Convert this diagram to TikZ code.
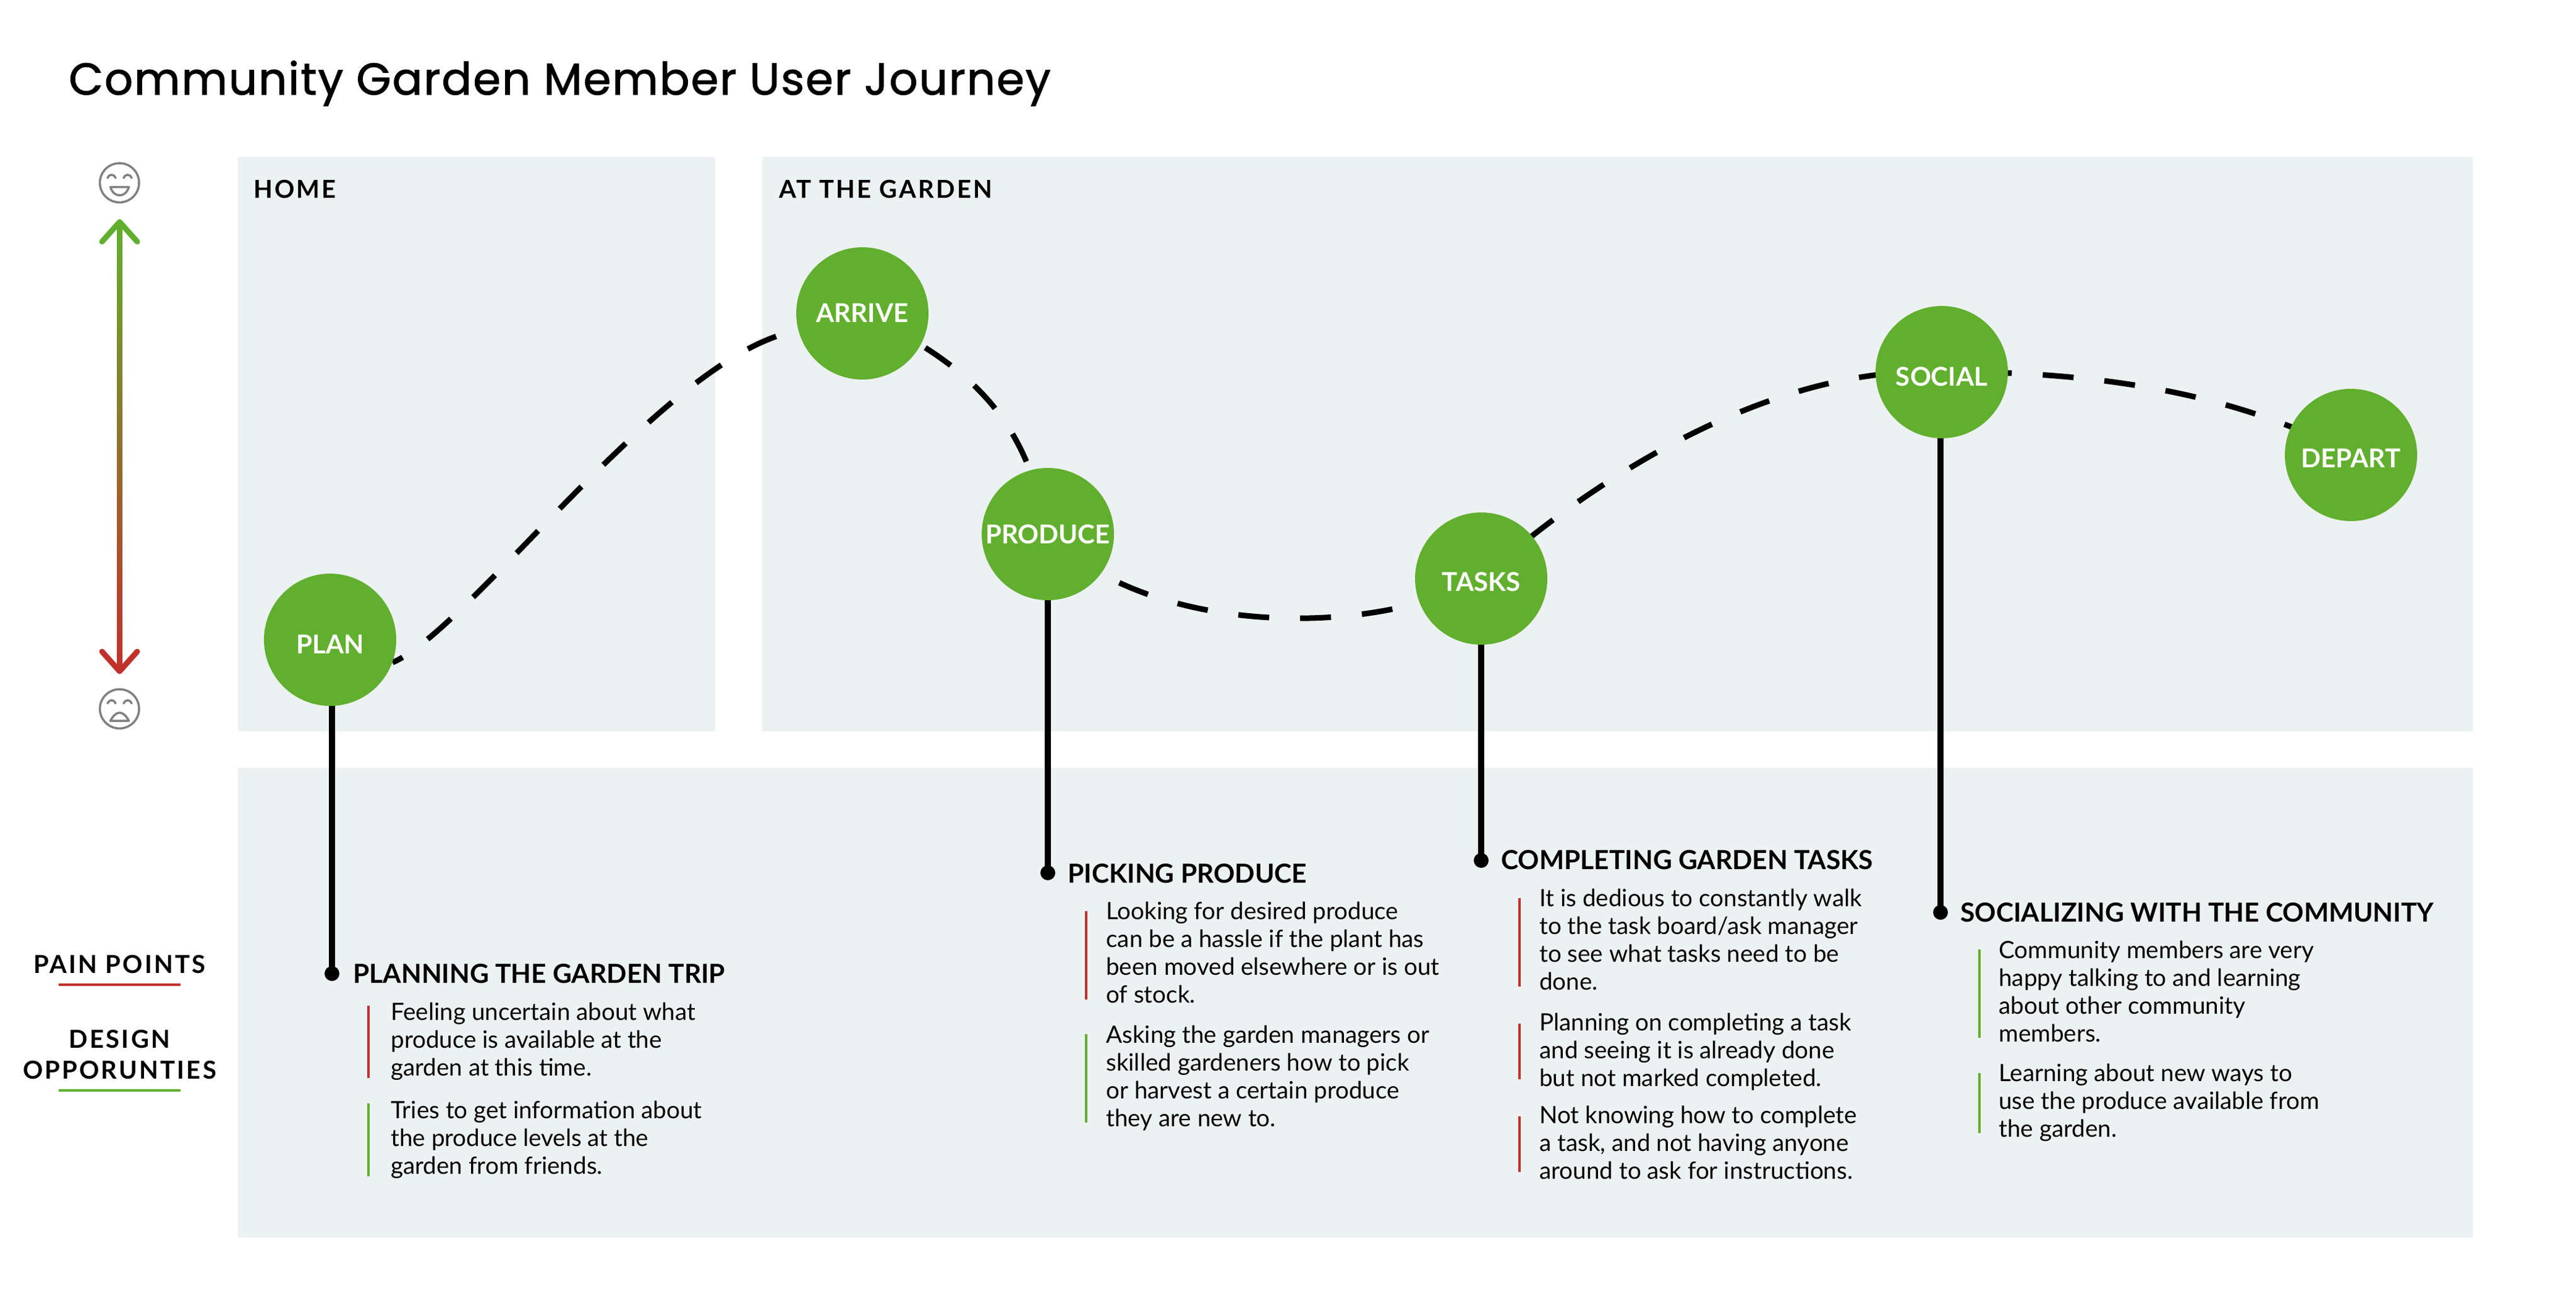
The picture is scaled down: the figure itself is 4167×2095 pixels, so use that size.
\documentclass[tikz,border=0pt]{standalone}
\usepackage{fontspec}
\setmainfont{Lato}
\newfontfamily\titlefont[LetterSpace=3,FakeBold=1.6]{Poppins}
\newfontfamily\capsfont[LetterSpace=8]{Lato}
\usetikzlibrary{backgrounds,calc}
\definecolor{panelbg}{HTML}{ECF1F1}
\definecolor{leaf}{HTML}{61AF2E}
\definecolor{painred}{HTML}{C1312C}
\definecolor{facegray}{HTML}{808080}
\newcommand{\fpx}[1]{\fontsize{\fpeval{#1*0.56906}pt}{\fpeval{45*0.56906}pt}\selectfont}
\tikzset{
 x=0.02cm,y=-0.02cm,
 panel/.style={fill=panelbg,draw=none},
 zone/.style={anchor=base west,inner sep=0,font=\capsfont\fpx{40}\bfseries},
 stage/.style={circle,fill=leaf,draw=none,minimum size=4.28cm,inner sep=0},
 stagelabel/.style={anchor=base,inner sep=0,text=white,font=\fpx{42}\bfseries},
 dashline/.style={line width=0.18cm,dash pattern=on 28.5pt off 28.5pt},
 stem/.style={line width=0.2cm,black},
 tip/.style={circle,fill=black,draw=none,minimum size=0.48cm,inner sep=0},
 head/.style={anchor=base west,inner sep=0,font=\fpx{42.5}\bfseries},
 body/.style={anchor=base west,inner sep=0,align=left,font=\fpx{38.6}},
 bar/.style={line width=0.08cm},
 legend/.style={anchor=base,inner sep=0,font=\capsfont\fpx{40}\bfseries},
 face/.style={facegray,line width=0.07cm,line cap=round,line join=round},
 moodtip/.style={line width=0.18cm,line cap=round,line join=round},
}
\begin{document}
\begin{tikzpicture}
\useasboundingbox (0,0) rectangle (4167,2095);
% stages
\node[stage] (plan) at (534,1035) {};
\node[stage] (arrive) at (1395,507) {};
\node[stage] (produce) at (1695,864) {};
\node[stage] (tasks) at (2396,936) {};
\node[stage] (social) at (3141,602) {};
\node[stage] (depart) at (3803,736) {};
\node[stagelabel] (planl) at (534,1057) {PLAN};
\node[stagelabel] (arrivel) at (1395,521) {ARRIVE};
\node[stagelabel] (producel) at (1695,879) {PRODUCE};
\node[stagelabel] (tasksl) at (2396,956) {TASKS};
\node[stagelabel] (sociall) at (3141,624) {SOCIAL};
\node[stagelabel] (departl) at (3803,756) {DEPART};
% tips
\node[tip] (t1) at (537,1575) {};
\node[tip] (t2) at (1695,1412) {};
\node[tip] (t3) at (2396,1392) {};
\node[tip] (t4) at (3139,1476) {};
\begin{scope}[on background layer]
\fill[panel] (385,254) rectangle (1157,1183);
\fill[panel] (1233,254) rectangle (4000,1183);
\fill[panel] (385,1242) rectangle (4000,2002);
\draw[dashline,dash phase=18pt] (plan.-20) .. controls (760,1020) and (1080,570) .. (arrive.195);
\draw[dashline,dash phase=48pt] (arrive.center) .. controls (1590,600) and (1660,690) .. (produce.center);
\draw[dashline,dash phase=34pt] (produce.center) .. controls (1860,1030) and (2220,1032) .. (tasks.center);
\draw[dashline] (tasks.center) .. controls (2570,780) and (2860,590) .. (social.center);
\draw[dashline,dash phase=21pt] (social.center) .. controls (3350,600) and (3600,625) .. (depart.center);
\draw[stem] (t1.center |- plan.center) -- (t1.center);
\draw[stem] (produce.center) -- (t2.center);
\draw[stem] (tasks.center) -- (t3.center);
\draw[stem] (t4.center |- social.center) -- (t4.center);
\end{scope}
% titles
\node[anchor=base west,inner sep=0,font=\titlefont\fpx{72}] (title) at (111,153) {Community Garden Member User Journey};
\node[zone] (home) at (410,320) {HOME};
\node[zone] (garden) at (1260,320) {AT THE GARDEN};
% headings
\node[head] (h1) at (571,1590) {PLANNING THE GARDEN TRIP};
\node[head] (h2) at (1727,1428) {PICKING PRODUCE};
\node[head] (h3) at (2428,1406) {COMPLETING GARDEN TASKS};
\node[head] (h4) at (3171,1491) {SOCIALIZING WITH THE COMMUNITY};
% bodies
\node[body] (b11) at (632,1740) {Feeling uncertain about what\\produce is available at the\\garden at this time.};
\node[body] (b12) at (632,1899) {Tries to get information about\\the produce levels at the\\garden from friends.};
\node[body] (b21) at (1789,1622) {Looking for desired produce\\can be a hassle if the plant has\\been moved elsewhere or is out\\of stock.};
\node[body] (b22) at (1789,1822) {Asking the garden managers or\\skilled gardeners how to pick\\or harvest a certain produce\\they are new to.};
\node[body] (b31) at (2490,1601) {It is dedious to constantly walk\\to the task board/ask manager\\to see what tasks need to be\\done.};
\node[body] (b32) at (2490,1757) {Planning on completing a task\\and seeing it is already done\\but not marked completed.};
\node[body] (b33) at (2490,1907) {Not knowing how to complete\\a task, and not having anyone\\around to ask for instructions.};
\node[body] (b41) at (3233,1685) {Community members are very\\happy talking to and learning\\about other community\\members.};
\node[body] (b42) at (3233,1839) {Learning about new ways to\\use the produce available from\\the garden.};
% bars
\draw[bar,painred] (596,1627) -- (596,1744);
\draw[bar,leaf] (596,1785) -- (596,1903);
\draw[bar,painred] (1757,1474) -- (1757,1617);
\draw[bar,leaf] (1757,1673) -- (1757,1816);
\draw[bar,painred] (2458,1453) -- (2458,1596);
\draw[bar,painred] (2458,1656) -- (2458,1746);
\draw[bar,painred] (2458,1806) -- (2458,1896);
\draw[bar,leaf] (3202,1536) -- (3202,1679);
\draw[bar,leaf] (3202,1736) -- (3202,1833);
% legend
\node[legend] (pain) at (193.5,1574) {PAIN POINTS};
\node[legend] (design) at (193.5,1695) {DESIGN};
\node[legend] (opp) at (193.5,1745) {OPPORUNTIES};
\draw[painred,line width=0.08cm] (95,1593) -- (292,1593);
\draw[leaf,line width=0.08cm] (95,1764) -- (292,1764);
% mood arrow
\shade[top color=leaf,bottom color=painred] (189,359) rectangle (198,1086);
\draw[moodtip,leaf] (165,391) -- (193.5,359) -- (222,391);
\draw[moodtip,painred] (165,1054) -- (193.5,1086) -- (222,1054);
% happy face
\draw[face] (193.3,295.7) circle [radius=0.634cm];
\draw[face] (174,288) .. controls (177,281) and (184,281) .. (187,288);
\draw[face] (200,288) .. controls (203,281) and (210,281) .. (213,288);
\draw[face] (178.5,302.5) -- (208.5,302.5) .. controls (205,313) and (199,316) .. (193.5,316) .. controls (188,316) and (182,313) .. (178.5,302.5) -- cycle;
% sad face
\draw[face] (193.3,1146.7) circle [radius=0.634cm];
\draw[face] (174,1138) .. controls (177,1131) and (184,1131) .. (187,1138);
\draw[face] (200,1138) .. controls (203,1131) and (210,1131) .. (213,1138);
\draw[face] (178.5,1166) -- (208.5,1166) .. controls (204,1158) and (199,1153) .. (193.5,1153) .. controls (188,1153) and (183,1158) .. (178.5,1166) -- cycle;
\end{tikzpicture}
\end{document}
